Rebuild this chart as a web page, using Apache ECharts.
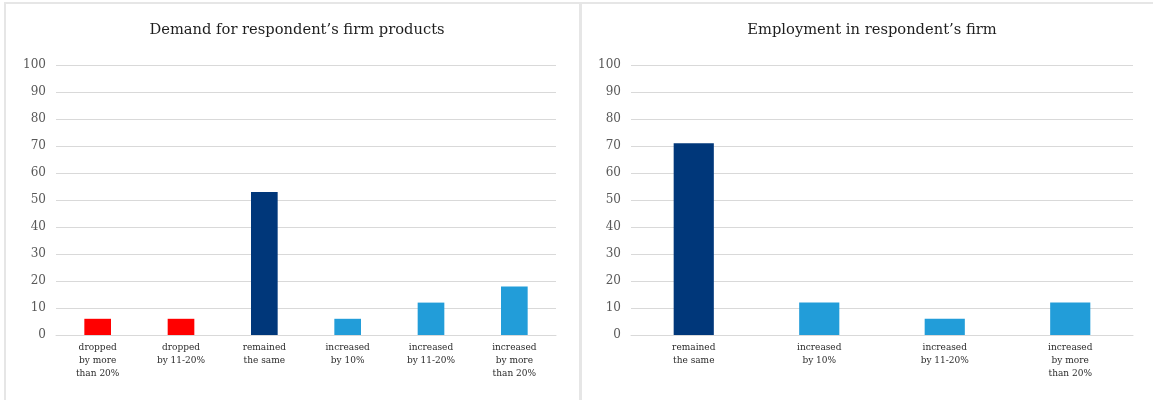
<!DOCTYPE html>
<html>
<head>
<meta charset="utf-8">
<script src="https://cdn.jsdelivr.net/npm/echarts@6/dist/echarts.min.js"></script>
<style>
  html, body { margin: 0; padding: 0; background: #fff; }
  #chart { width: 1153px; height: 400px; }
</style>
</head>
<body>
<div id="chart"></div>
<script>
// Survey answers, share of respondents (%)
const demandCategories = [
  'dropped\nby more\nthan 20%',
  'dropped\nby 11-20%',
  'remained\nthe same',
  'increased\nby 10%',
  'increased\nby 11-20%',
  'increased\nby more\nthan 20%'
];
const demandValues = [6, 6, 53, 6, 12, 18];

const employmentCategories = [
  'remained\nthe same',
  'increased\nby 10%',
  'increased\nby 11-20%',
  'increased\nby more\nthan 20%'
];
const employmentValues = [71, 12, 6, 12];

const yTicks = { min: 0, max: 100, interval: 10 };

// Colour groups: decline, no change, growth
const RED = '#ff0000', NAVY = '#00377a', BLUE = '#229dd9';
const demandColors = [RED, RED, NAVY, BLUE, BLUE, BLUE];
const employmentColors = [NAVY, BLUE, BLUE, BLUE];

const SERIF = '"DejaVu Serif", serif';
const GRID_COLOR = '#d9d9d9';

function yAxis(gridIndex) {
  return {
    type: 'value', gridIndex,
    min: yTicks.min, max: yTicks.max, interval: yTicks.interval,
    axisLine: { show: false }, axisTick: { show: false },
    axisLabel: { color: '#595959', fontFamily: SERIF, fontSize: 12, margin: 10 },
    splitLine: { lineStyle: { color: GRID_COLOR, width: 1 } }
  };
}
function xAxis(gridIndex, cats) {
  return {
    type: 'category', gridIndex, data: cats,
    axisLine: { lineStyle: { color: GRID_COLOR, width: 1 } },
    axisTick: { show: false },
    axisLabel: { color: '#2b2b2b', fontFamily: SERIF, fontSize: 9, lineHeight: 13, margin: 6, interval: 0 }
  };
}
function bars(axisIndex, values, colors) {
  return {
    type: 'bar', xAxisIndex: axisIndex, yAxisIndex: axisIndex,
    barWidth: '32%',
    data: values.map((v, i) => ({ value: v, itemStyle: { color: colors[i] } }))
  };
}

const chart = echarts.init(document.getElementById('chart'), null, { renderer: 'canvas' });
chart.setOption({
  animation: false,
  backgroundColor: '#fff',
  title: [
    { text: 'Demand for respondent\u2019s firm products', left: 292, top: 18, textAlign: 'center',
      textStyle: { fontFamily: SERIF, fontSize: 14.7, fontWeight: 'normal', color: '#1e1e1e' } },
    { text: 'Employment in respondent\u2019s firm', left: 867, top: 18, textAlign: 'center',
      textStyle: { fontFamily: SERIF, fontSize: 14.7, fontWeight: 'normal', color: '#1e1e1e' } }
  ],
  grid: [
    { left: 56, right: 597, top: 65, bottom: 65 },
    { left: 631, right: 20, top: 65, bottom: 65 }
  ],
  xAxis: [xAxis(0, demandCategories), xAxis(1, employmentCategories)],
  yAxis: [yAxis(0), yAxis(1)],
  series: [bars(0, demandValues, demandColors), bars(1, employmentValues, employmentColors)],
  graphic: [
    // panel frame: top edge, left edge, divider between the two panels
    { type: 'rect', shape: { x: 4, y: 2, width: 1149, height: 2 }, style: { fill: '#e6e6e6' }, silent: true },
    { type: 'rect', shape: { x: 4, y: 2, width: 2, height: 398 }, style: { fill: '#e6e6e6' }, silent: true },
    { type: 'rect', shape: { x: 579, y: 2, width: 3, height: 398 }, style: { fill: '#e6e6e6' }, silent: true }
  ]
});
</script>
</body>
</html>
